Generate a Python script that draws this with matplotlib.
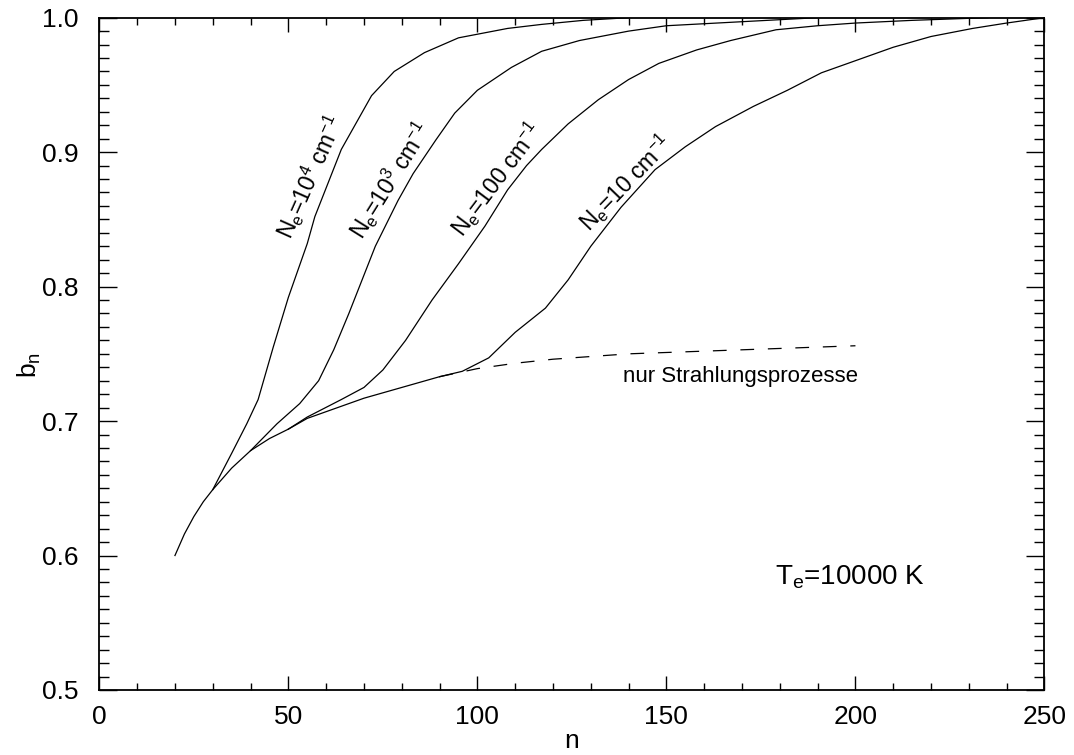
import matplotlib
matplotlib.use("Agg")
import matplotlib.pyplot as plt
from matplotlib.ticker import MultipleLocator

plt.rcParams["font.family"] = ["Liberation Sans", "DejaVu Sans"]
plt.rcParams["mathtext.fontset"] = "custom"
plt.rcParams["mathtext.rm"] = "Liberation Sans"
plt.rcParams["mathtext.it"] = "Liberation Sans:italic"

# shared low-n part (radiative processes only)
n_common = [20, 22.5, 25, 27.5, 30, 35, 40, 45, 50, 55, 60, 65, 70, 75, 80,
            85, 90]
b_common = [0.600, 0.616, 0.629, 0.640, 0.649, 0.665, 0.678, 0.687, 0.694,
            0.702, 0.707, 0.712, 0.717, 0.721, 0.725, 0.729, 0.733]

# radiative processes only, continued (dashed)
n_rad = [90, 100, 110, 120, 130, 140, 150, 160, 170, 180, 190, 200]
b_rad = [0.733, 0.739, 0.743, 0.746, 0.748, 0.750, 0.751, 0.752, 0.753,
         0.754, 0.755, 0.756]

# N_e = 10 cm^-1
n_ne10 = [90, 96, 103, 110, 118, 124, 130, 138, 147, 155, 163, 173, 182,
          191, 200, 210, 220, 231, 240, 250]
b_ne10 = [0.733, 0.737, 0.747, 0.766, 0.784, 0.805, 0.830, 0.859, 0.887,
          0.904, 0.919, 0.934, 0.946, 0.959, 0.968, 0.978, 0.986, 0.992,
          0.996, 1.000]

# N_e = 100 cm^-1
n_ne100 = [50, 55, 64, 70, 75, 81, 88, 95, 102, 108, 113, 117, 124, 132,
           140, 148, 158, 167, 179, 190, 200, 215, 235]
b_ne100 = [0.694, 0.703, 0.716, 0.725, 0.738, 0.760, 0.790, 0.817, 0.845,
           0.872, 0.890, 0.902, 0.921, 0.939, 0.954, 0.966, 0.976, 0.983,
           0.991, 0.994, 0.996, 0.998, 1.000]

# N_e = 10^3 cm^-1
n_ne1e3 = [40, 47, 53, 58, 62, 66, 73, 79, 83, 89, 94, 100, 109, 117, 127,
           140, 150, 170, 190]
b_ne1e3 = [0.678, 0.698, 0.713, 0.730, 0.753, 0.780, 0.830, 0.864, 0.884,
           0.909, 0.929, 0.946, 0.963, 0.975, 0.983, 0.990, 0.994, 0.997,
           1.000]

# N_e = 10^4 cm^-1
n_ne1e4 = [30, 35, 39, 42, 46, 50, 55, 57, 64, 72, 78, 86, 95, 108, 117,
           128, 140]
b_ne1e4 = [0.649, 0.676, 0.698, 0.716, 0.755, 0.792, 0.832, 0.852, 0.902,
           0.942, 0.960, 0.974, 0.985, 0.992, 0.995, 0.998, 1.000]

fig = plt.figure(figsize=(10.74, 7.55), dpi=100)
ax = fig.add_axes([0.0925, 0.0861, 0.8800, 0.8905])

lw = 0.9
ax.plot(n_common, b_common, color="black", lw=lw)
ax.plot(n_rad, b_rad, color="black", lw=lw, linestyle=(0, (11, 11)))
for nn, bb in [(n_ne10, b_ne10), (n_ne100, b_ne100),
               (n_ne1e3, b_ne1e3), (n_ne1e4, b_ne1e4)]:
    ax.plot(nn, bb, color="black", lw=lw)

# curve labels, baseline start placed just left of each curve
lab_fs = 16.5
curve_labels = [
    (50.8, 0.834, 66, r"N$_\mathregular{e}$=10$^\mathregular{4}$ cm$^\mathregular{-1}$"),
    (69.6, 0.834, 58, r"N$_\mathregular{e}$=10$^\mathregular{3}$ cm$^\mathregular{-1}$"),
    (96.2, 0.836, 53, r"N$_\mathregular{e}$=100 cm$^\mathregular{-1}$"),
    (129.6, 0.840, 46, r"N$_\mathregular{e}$=10 cm$^\mathregular{-1}$"),
]
for x0, y0, rot, txt in curve_labels:
    ax.text(x0, y0, txt, fontsize=lab_fs, rotation=rot,
            rotation_mode="anchor", ha="left", va="baseline")

ax.text(138.5, 0.7292, "nur Strahlungsprozesse", fontsize=16,
        ha="left", va="baseline")
ax.text(178.8, 0.5787, r"T$_\mathregular{e}$=10000 K", fontsize=20,
        ha="left", va="baseline")

ax.set_xlim(0, 250)
ax.set_ylim(0.5, 1.0)
ax.xaxis.set_major_locator(MultipleLocator(50))
ax.xaxis.set_minor_locator(MultipleLocator(10))
ax.yaxis.set_major_locator(MultipleLocator(0.1))
ax.yaxis.set_minor_locator(MultipleLocator(0.01))
ax.yaxis.set_major_formatter(plt.FuncFormatter(lambda v, p: f"{v:.1f}"))

ax.tick_params(which="both", direction="in", top=True, right=True,
               labelsize=19, color="black", width=1.0)
ax.tick_params(axis="x", which="major", length=10, pad=11)
ax.tick_params(axis="x", which="minor", length=5)
ax.tick_params(axis="y", which="major", length=13, pad=15)
ax.tick_params(axis="y", which="minor", length=7)
for sp in ax.spines.values():
    sp.set_linewidth(1.3)

ax.set_xlabel("n", fontsize=19)
ax.xaxis.set_label_coords(0.5, -0.058)
ax.set_ylabel(r"b$_\mathregular{n}$", fontsize=19)
ax.yaxis.set_label_coords(-0.060, 0.484)

fig.savefig("out.png", dpi=100)
